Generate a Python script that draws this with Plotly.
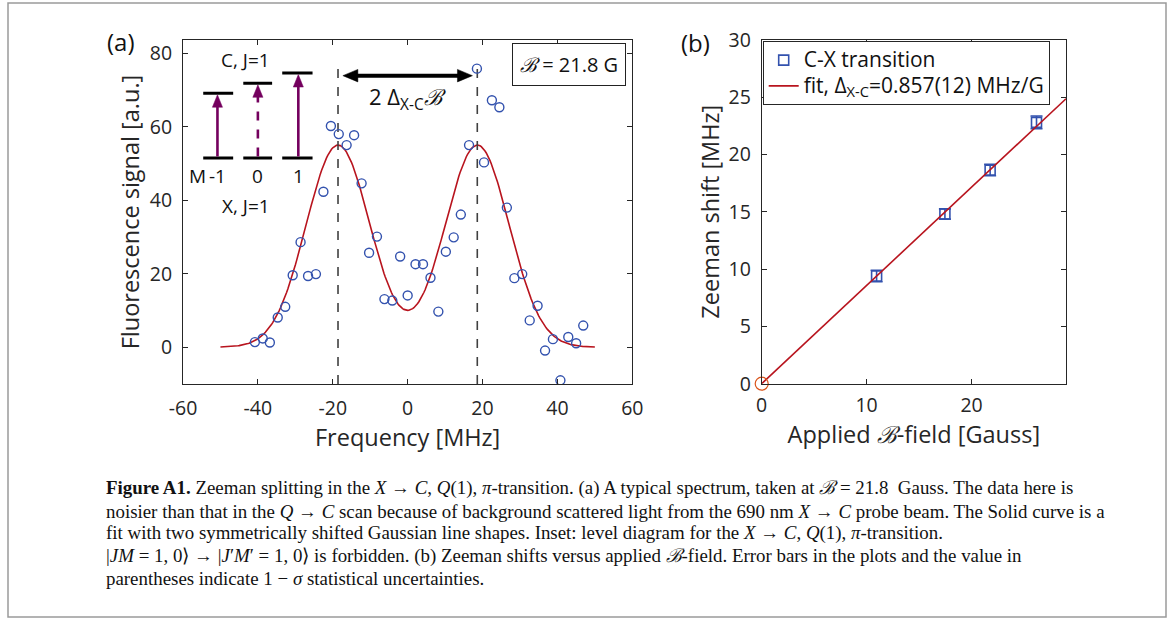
import numpy as np
import plotly.graph_objects as go

# ---------------- data: panel (a) spectrum ----------------
freq_mhz = [-40.8, -38.7, -36.8, -34.7, -32.7, -30.7, -28.6, -26.6, -24.5, -22.5,
            -20.5, -18.4, -16.3, -14.3, -12.3, -10.3, -8.2, -6.2, -4.1, -2.0,
            0.0, 2.1, 4.1, 6.1, 8.2, 10.2, 12.3, 14.2, 16.4, 18.5,
            20.4, 22.5, 24.5, 26.5, 28.5, 30.6, 32.6, 34.7, 36.7, 38.8,
            40.8, 42.9, 45.0, 46.9]
signal_au = [1.4, 2.4, 1.3, 8.1, 11.0, 19.6, 28.6, 19.4, 19.9, 42.3,
             60.2, 58.0, 55.0, 57.7, 44.6, 25.7, 30.1, 13.1, 12.7, 24.7,
             14.1, 22.6, 22.6, 18.9, 9.7, 26.0, 29.9, 36.1, 55.0, 75.8,
             50.3, 67.2, 65.3, 38.0, 18.8, 19.9, 7.3, 11.3, -0.9, 2.2,
             -9.0, 2.8, 1.1, 5.9]

# Gaussian-pair fit parameters (panel a)
fit_center = 18.6
fit_sigma = 8.5
fit_amp = 55.0
fit_range = [-50, 50]

# ---------------- data: panel (b) Zeeman shifts ----------------
bfield_gauss = [10.95, 17.46, 21.77, 26.19]
shift_mhz = [9.39, 14.8, 18.63, 22.79]
shift_err = [0.5, 0.45, 0.5, 0.55]
origin_b = [0]
origin_shift = [0]
slope_mhz_per_g = 0.857
fit_b_range = [0, 29]

x_ticks_a = [-60, -40, -20, 0, 20, 40, 60]
y_ticks_a = [0, 20, 40, 60, 80]
x_ticks_b = [0, 10, 20]
y_ticks_b = [0, 5, 10, 15, 20, 25, 30]

W, H = 1171, 621
def px(x):
    return x / W
def py(y):
    return 1 - y / H

BLUE = "#3352AE"
RED = "#B8141E"
PURPLE = "#74005E"
AX = "#262626"
FONT = "Open Sans"

def big(s):
    return '<span style="font-size:21px">' + s + '</span>'

fig = go.Figure()

# fit curve (a)
xf = np.linspace(fit_range[0], fit_range[1], 301)
yf = fit_amp * (np.exp(-(xf - fit_center) ** 2 / (2 * fit_sigma ** 2)) +
                np.exp(-(xf + fit_center) ** 2 / (2 * fit_sigma ** 2)))
fig.add_trace(go.Scatter(x=xf, y=yf, mode="lines", line=dict(color=RED, width=1.6),
                         xaxis="x", yaxis="y", showlegend=False, hoverinfo="skip"))
# dashed peak lines
for c in (-fit_center, fit_center):
    fig.add_trace(go.Scatter(x=[c, c], y=[-10, 76], mode="lines",
                             line=dict(color="#404040", width=1.6, dash="dash"),
                             xaxis="x", yaxis="y", showlegend=False, hoverinfo="skip"))
# data points (a)
fig.add_trace(go.Scatter(x=freq_mhz, y=signal_au, mode="markers",
                         marker=dict(symbol="circle-open", size=9, color=BLUE,
                                     line=dict(width=1.4, color=BLUE)),
                         xaxis="x", yaxis="y", showlegend=False))

# panel (b)
fig.add_trace(go.Scatter(x=bfield_gauss, y=shift_mhz, mode="markers",
                         name=big("C-X transition"),
                         marker=dict(symbol="square-open", size=10, color=BLUE,
                                     line=dict(width=1.6, color=BLUE)),
                         error_y=dict(type="data", array=shift_err, color=BLUE,
                                      thickness=1.6, width=6),
                         xaxis="x2", yaxis="y2"))
fig.add_trace(go.Scatter(x=fit_b_range,
                         y=[slope_mhz_per_g * b for b in fit_b_range],
                         mode="lines", name=big("fit, Δ<sub>X-C</sub>=0.857(12) MHz/G"),
                         line=dict(color=RED, width=1.6), xaxis="x2", yaxis="y2"))
fig.add_trace(go.Scatter(x=origin_b, y=origin_shift, mode="markers",
                         marker=dict(symbol="circle-open", size=13, color="#D95319",
                                     line=dict(width=1.2, color="#D95319")),
                         xaxis="x2", yaxis="y2", showlegend=False, cliponaxis=False))

axis_common = dict(showline=True, linecolor=AX, linewidth=1, mirror="ticks",
                   ticks="inside", ticklen=5, tickcolor=AX, tickwidth=1,
                   showgrid=False, zeroline=False, automargin=False,
                   tickfont=dict(family=FONT, size=19.5, color=AX))
TITLE_FONT = dict(family=FONT, size=23.5, color=AX)

def ticktext(vals):
    return [str(v) for v in vals]

fig.update_layout(
    width=W, height=H, margin=dict(l=0, r=0, t=0, b=0, autoexpand=False),
    paper_bgcolor="white", plot_bgcolor="white",
    xaxis=dict(domain=[px(183), px(632.3)], range=[-60, 60], tickvals=x_ticks_a,
               ticktext=ticktext(x_ticks_a), anchor="y", ticklabelstandoff=7,
               title=dict(text="Frequency [MHz]", font=TITLE_FONT, standoff=4),
               **axis_common),
    yaxis=dict(domain=[py(384), py(40)], range=[-10, 83.6], tickvals=y_ticks_a,
               ticktext=ticktext(y_ticks_a), anchor="x", ticklabelstandoff=6,
               title=dict(text="Fluorescence signal [a.u.]", font=TITLE_FONT, standoff=3),
               **axis_common),
    xaxis2=dict(domain=[px(761.7), px(1066)], range=[0, 29], tickvals=x_ticks_b,
                ticktext=ticktext(x_ticks_b), anchor="y2", ticklabelstandoff=4,
                title=dict(text="Applied <i>ℬ</i>-field [Gauss]", font=TITLE_FONT, standoff=6),
                **axis_common),
    yaxis2=dict(domain=[py(383.7), py(39.7)], range=[0, 30], tickvals=y_ticks_b,
                ticktext=ticktext(y_ticks_b), anchor="x2", ticklabelstandoff=6,
                title=dict(text="Zeeman shift [MHz]", font=TITLE_FONT, standoff=2),
                **axis_common),
    legend=dict(x=px(762.7), y=py(41.2), xanchor="left", yanchor="top",
                bgcolor="white", bordercolor=AX, borderwidth=1,
                font=dict(family=FONT, size=17.5, color="#111"),
                tracegroupgap=0, itemwidth=30),
    showlegend=True,
)

ann = []
def text(x, y, s, size=19, xref="paper", yref="paper", color="#111", angle=0,
         xanchor="center", yanchor="middle", family=FONT, **kw):
    ann.append(dict(x=x, y=y, text=s, xref=xref, yref=yref, showarrow=False,
                    font=dict(family=family, size=size, color=color), textangle=angle,
                    xanchor=xanchor, yanchor=yanchor, **kw))

# panel labels
text(px(121), py(42), "(a)", size=24, color="#111")
text(px(695), py(43), "(b)", size=24, color="#111")

# B = 21.8 G box
ann.append(dict(x=43, y=77, xref="x", yref="y", showarrow=False,
                text="<i>ℬ</i> = 21.8 G", font=dict(family=FONT, size=20, color="#111"),
                bordercolor="#222", borderwidth=1, borderpad=7, bgcolor="white"))
# 2 Delta B text
text(0, 67.8, "2 Δ<sub>X-C</sub><i>ℬ</i>", size=22, xref="x", yref="y")

shapes = []
def line(x0, y0, x1, y1, color, width, dash="solid"):
    shapes.append(dict(type="line", xref="x", yref="y", x0=x0, x1=x1, y0=y0, y1=y1,
                       line=dict(color=color, width=width, dash=dash)))
def tri(pts, color):
    path = "M " + " L ".join(f"{a},{b}" for a, b in pts) + " Z"
    shapes.append(dict(type="path", xref="x", yref="y", path=path,
                       fillcolor=color, line=dict(color=color, width=0.5)))

# double-headed arrow between peaks
arrow_y = 73.9
tip = fit_center - 1.3
head_len = 4.0
head_half = 1.7
line(-tip + head_len - 0.3, arrow_y, tip - head_len + 0.3, arrow_y, "black", 4)
tri([(-tip, arrow_y), (-tip + head_len, arrow_y + head_half), (-tip + head_len, arrow_y - head_half)], "black")
tri([(tip, arrow_y), (tip - head_len, arrow_y + head_half), (tip - head_len, arrow_y - head_half)], "black")

# inset level diagram
levels_x = [(-54.6, -46.6), (-43.9, -36.2), (-33.5, -25.4)]
upper_y = [69.1, 71.8, 74.6]
lower_y = 51.5
arrow_x = [-50.8, -40.0, -29.2]
p_len = 3.4
p_half = 1.35
for i, ((x0, x1), yu, xa) in enumerate(zip(levels_x, upper_y, arrow_x)):
    line(x0, yu, x1, yu, "black", 3)
    line(x0, lower_y, x1, lower_y, "black", 3)
    line(xa, lower_y + 0.4, xa, yu - p_len + 0.3, PURPLE, 2.6,
         dash="dash" if i == 1 else "solid")
    tri([(xa, yu - 0.4), (xa - p_half, yu - 0.4 - p_len), (xa + p_half, yu - 0.4 - p_len)], PURPLE)

text(-43.3, 78.2, "C, J=1", size=19, xref="x", yref="y")
text(-43.3, 38.3, "X, J=1", size=19, xref="x", yref="y")
for s, xm in zip(["M", "-1", "0", "1"], [-56.2, -50.8, -40.0, -29.2]):
    text(xm, 46.6, s, size=19, xref="x", yref="y")

# caption
caption_lines = [
    "<b>Figure A1.</b> Zeeman splitting in the <i>X</i> → <i>C</i>, <i>Q</i>(1), <i>π</i>-transition. (a) A typical spectrum, taken at <i>ℬ</i> = 21.8  Gauss. The data here is",
    "noisier than that in the <i>Q</i> → <i>C</i> scan because of background scattered light from the 690 nm <i>X</i> → <i>C</i> probe beam. The Solid curve is a",
    "fit with two symmetrically shifted Gaussian line shapes. Inset: level diagram for the <i>X</i> → <i>C</i>, <i>Q</i>(1), <i>π</i>-transition.",
    "|<i>JM</i> = 1, 0⟩ → |<i>J</i>′<i>M</i>′ = 1, 0⟩ is forbidden. (b) Zeeman shifts versus applied <i>ℬ</i>-field. Error bars in the plots and the value in",
    "parentheses indicate 1 − <i>σ</i> statistical uncertainties.",
]
caption_y = [488, 511, 533, 556, 578]
for s, yy in zip(caption_lines, caption_y):
    text(px(104), py(yy), s, size=18.9, xanchor="left", family="Liberation Serif",
         color="#111")

# outer border
shapes.append(dict(type="rect", xref="paper", yref="paper", x0=px(8), x1=px(1166),
                   y0=py(617), y1=py(3), line=dict(color="#9a9a9a", width=1.5)))

fig.update_layout(annotations=ann, shapes=shapes)
fig.write_html("out.html", config={"displayModeBar": False},
               post_script="document.body.style.margin='0px';document.body.style.overflow='hidden';")
